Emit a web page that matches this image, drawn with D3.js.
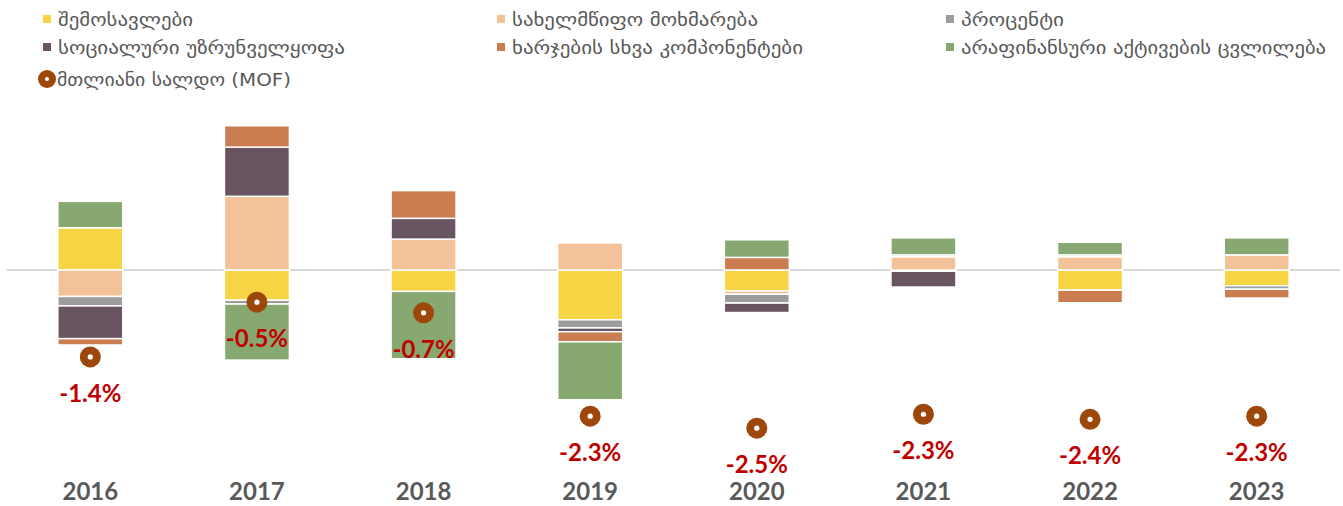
<!DOCTYPE html>
<html>
<head>
<meta charset="utf-8">
<script src="https://cdn.jsdelivr.net/npm/d3@7"></script>
<style>
html,body{margin:0;padding:0;background:#fff;}
svg{display:block;}
</style>
</head>
<body>
<svg id="chart" width="1343" height="506"></svg>
<script>
// ---- data ----
const years = ['2016','2017','2018','2019','2020','2021','2022','2023'];
const revenue      = [0.67, -0.48, -0.34, -0.79, -0.33, -0.02, -0.32, -0.25];
const consumption  = [-0.42, 1.17, 0.49, 0.43, -0.055, 0.21, 0.21, 0.24];
const interest     = [-0.15, -0.06, 0, -0.13, -0.14, 0.03, 0.03, -0.055];
const social       = [-0.52, 0.78, 0.33, -0.06, -0.15, -0.25, 0, 0];
const otherExp     = [-0.10, 0.34, 0.44, -0.16, 0.20, 0, -0.20, -0.14];
const nonFinAssets = [0.42, -0.89, -1.07, -0.92, 0.28, 0.27, 0.20, 0.27];
const balance      = [-1.38, -0.51, -0.68, -2.32, -2.51, -2.29, -2.37, -2.32];

const seriesKeys  = ['revenue','consumption','interest','social','otherExp','nonFinAssets'];
const seriesNames = ['შემოსავლები','სახელმწიფო მოხმარება','პროცენტი','სოციალური უზრუნველყოფა','ხარჯების სხვა კომპონენტები','არაფინანსური აქტივების ცვლილება'];
const balanceName = 'მთლიანი სალდო (MOF)';
const seriesColors = ['#F7D443','#F3C298','#9C9C9C','#695462','#C97D50','#87A971'];
const dotColor = '#9E470B';

const seriesValues = [revenue, consumption, interest, social, otherExp, nonFinAssets];
const rows = years.map((y,i)=>{
  const o = {year:y};
  seriesKeys.forEach((k,j)=>{ o[k] = seriesValues[j][i]; });
  return o;
});

const svg = d3.select('#chart');

const x = d3.scaleBand().domain(years).range([7,1340]).paddingInner(0.61).paddingOuter(0.305);
const y = d3.scaleLinear().domain([-3, 2.5]).range([459, 112.5]);

// zero line
svg.append('line')
  .attr('x1', 7).attr('x2', 1340)
  .attr('y1', y(0)).attr('y2', y(0))
  .attr('stroke', '#D9D9D9').attr('stroke-width', 2);

const stack = d3.stack().keys(seriesKeys).order(d3.stackOrderNone).offset(d3.stackOffsetDiverging);
const stacked = stack(rows);

svg.append('g').selectAll('g')
  .data(stacked).join('g')
  .attr('fill', (d,i)=>seriesColors[i])
  .selectAll('rect')
  .data(d=>d.filter(p=>Math.abs(p[1]-p[0])>1e-9)).join('rect')
  .attr('x', d=>x(d.data.year))
  .attr('width', x.bandwidth())
  .attr('y', d=>y(Math.max(d[0],d[1])))
  .attr('height', d=>Math.abs(y(d[0])-y(d[1])))
  .attr('stroke', '#fff').attr('stroke-width', 1.5);

// balance dots
const dots = svg.append('g');
years.forEach((yr,i)=>{
  const cx = x(yr) + x.bandwidth()/2, cy = y(balance[i]);
  dots.append('circle').attr('cx',cx).attr('cy',cy).attr('r',10.5).attr('fill',dotColor);
  dots.append('circle').attr('cx',cx).attr('cy',cy).attr('r',2.6).attr('fill','#fff');
  dots.append('text').attr('x',cx).attr('y',cy+45)
    .attr('text-anchor','middle')
    .attr('font-family','Lato, "Open Sans", sans-serif')
    .attr('font-weight','bold').attr('font-size',24)
    .attr('fill','#C00000')
    .text(balance[i].toFixed(1)+'%');
});

// x axis labels
const xAxis = d3.axisBottom(x).tickSize(0).tickPadding(0);
const ax = svg.append('g').attr('transform','translate(0,500)').call(xAxis);
ax.select('.domain').remove();
ax.selectAll('text')
  .attr('dy', 0).attr('y', 0)
  .attr('font-family','Lato, "Open Sans", sans-serif')
  .attr('font-weight','bold').attr('font-size',24)
  .attr('fill','#595959');

// legend
const legendWidths = [135, 246, 103, 287, 291, 365];
const balanceLegendWidth = 234;
const legend = svg.append('g')
  .attr('font-family','"DejaVu Sans", sans-serif')
  .attr('font-size',18)
  .attr('fill','#595959');
const colX = [43, 497, 946];
const rowY = [19, 47];
seriesNames.forEach((name,i)=>{
  const cx = colX[i%3], cy = rowY[Math.floor(i/3)];
  legend.append('rect').attr('x',cx).attr('y',cy-4).attr('width',8).attr('height',8).attr('fill',seriesColors[i]);
  legend.append('text').attr('x',cx+15).attr('y',cy).attr('dominant-baseline','central')
    .attr('textLength', legendWidths[i]).attr('lengthAdjust','spacingAndGlyphs')
    .text(name);
});
legend.append('circle').attr('cx',47).attr('cy',79).attr('r',9).attr('fill',dotColor);
legend.append('circle').attr('cx',47).attr('cy',79).attr('r',2).attr('fill','#fff');
legend.append('text').attr('x',57).attr('y',79).attr('dominant-baseline','central')
  .attr('textLength', balanceLegendWidth).attr('lengthAdjust','spacingAndGlyphs')
  .text(balanceName);
</script>
</body>
</html>
